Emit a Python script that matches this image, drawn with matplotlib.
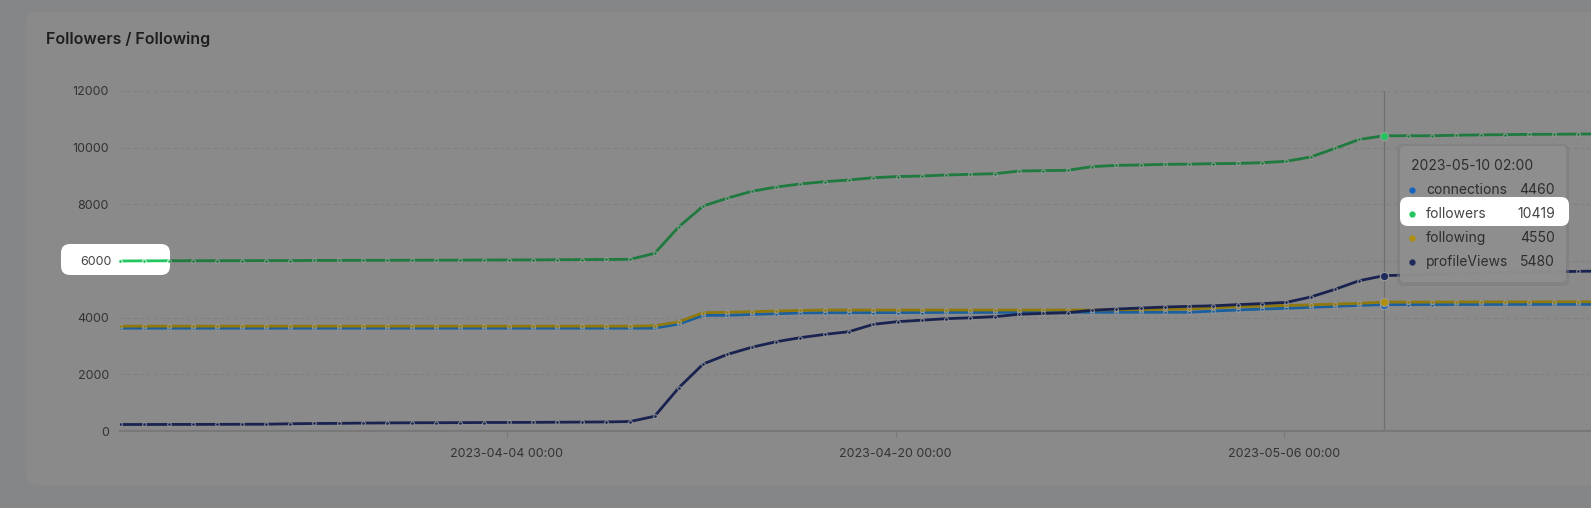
import numpy as np
import pandas as pd
import matplotlib
matplotlib.use('Agg')
import matplotlib.pyplot as plt
import matplotlib.dates as mdates
from matplotlib.patches import FancyBboxPatch
from matplotlib.transforms import Affine2D

plt.rcParams['font.family'] = ['Inter', 'DejaVu Sans']

W, H = 1591, 508

# daily snapshots, 02:00 each day
dates = pd.date_range('2023-03-19 02:00', periods=62, freq='D')

followers = [6000, 6005, 6008, 6010, 6010, 6012, 6015, 6015, 6020, 6022,
             6025, 6025, 6028, 6030, 6032, 6035, 6038, 6040, 6045, 6050,
             6055, 6060, 6270, 7210, 7940, 8220, 8460, 8610, 8720, 8800,
             8860, 8940, 8980, 9000, 9035, 9060, 9080, 9175, 9190, 9200,
             9330, 9375, 9390, 9410, 9420, 9435, 9445, 9470, 9520, 9670,
             9975, 10290, 10419, 10422, 10420, 10440, 10450, 10460, 10470, 10472,
             10480, 10485]
following = [3700] * 22 + [3715, 3855, 4175, 4190, 4210, 4235, 4255, 4270,
             4270, 4270, 4270, 4270, 4270, 4270, 4270, 4270, 4270, 4270, 4270,
             4280, 4285, 4295, 4305, 4350, 4385, 4410, 4430, 4450, 4480, 4505,
             4550, 4550, 4552, 4553, 4555, 4556, 4558, 4560, 4560, 4562]
connections = [3630] * 23 + [3775, 4080, 4085, 4115, 4140, 4165, 4175, 4175,
               4178, 4180, 4182, 4185, 4185, 4186, 4188, 4188, 4190, 4190, 4190,
               4190, 4190, 4190, 4235, 4270, 4305, 4330, 4365, 4400, 4435, 4460,
               4462, 4463, 4465, 4466, 4467, 4468, 4470, 4470, 4471]
profile_views = [230, 230, 232, 233, 235, 237, 240, 255, 265, 270,
                 280, 285, 290, 292, 295, 300, 302, 305, 310, 315,
                 320, 335, 520, 1530, 2365, 2705, 2955, 3150, 3295, 3410,
                 3505, 3765, 3860, 3910, 3965, 3995, 4035, 4120, 4150, 4175,
                 4260, 4305, 4340, 4375, 4400, 4420, 4460, 4495, 4540, 4730,
                 5000, 5305, 5480, 5510, 5530, 5550, 5570, 5590, 5605, 5620,
                 5635, 5645]

series_names = ['connections', 'followers', 'following', 'profileViews']
series_data = [connections, followers, following, profile_views]
line_colors = ['#1a5f9e', '#1f7a3f', '#8f780c', '#1a2350']
dot_colors = ['#1565c0', '#22c55e', '#b08f0c', '#1e2a5c']
hover = 52  # 2023-05-10 02:00

yticks = [0, 2000, 4000, 6000, 8000, 10000, 12000]
xticks = pd.to_datetime(['2023-04-04 00:00', '2023-04-20 00:00', '2023-05-06 00:00'])

fig = plt.figure(figsize=(W / 100, H / 100), dpi=100)
fig.patch.set_facecolor('#858687')
px = Affine2D().scale(1, -1).translate(0, H)  # pixel coords, origin top-left

card = FancyBboxPatch((26, 12), 1600, 473, boxstyle='round,pad=0,rounding_size=11',
                      transform=px, facecolor='#8a8a8a', edgecolor='none', zorder=0)
fig.add_artist(card)
fig.text(46, 39, 'Followers / Following', transform=px, fontsize=11.5, fontweight='semibold',
         color='#1e1e1e', va='center', ha='left')

ax = fig.add_axes([120 / W, 77 / H, (W - 120) / W, 340 / H])
ax.set_facecolor('none')
px_per_day = 24.3
ax.set_xlim(dates[0], dates[0] + pd.Timedelta(days=(W - 120) / px_per_day))
ax.set_ylim(0, 12000)

for name, vals, c in zip(series_names, series_data, line_colors):
    ax.plot(dates, vals, color=c, lw=2.0, marker='o', ms=2.6, mfc=c, mec='#a3a3a3',
            mew=0.6, zorder=3, solid_joinstyle='round')

ax.set_yticks(yticks)
ax.set_xticks(xticks)
ax.xaxis.set_major_formatter(mdates.DateFormatter('%Y-%m-%d %H:%M'))
ax.yaxis.grid(True, linestyle=(0, (3, 3)), color='#7f7f7f', lw=0.8)
ax.set_axisbelow(True)
for s in ['top', 'right', 'left']:
    ax.spines[s].set_visible(False)
ax.spines['bottom'].set_color('#787878')
ax.spines['bottom'].set_linewidth(1.6)
ax.tick_params(axis='y', length=0, pad=8, labelsize=9, labelcolor='#333333')
ax.tick_params(axis='x', length=4, color='#787878', pad=8, labelsize=9, labelcolor='#333333')

# hover crosshair and highlighted points
ax.axvline(dates[hover], color='#6f6f6f', lw=0.9, zorder=2)
for vals, c in zip(series_data, dot_colors):
    ax.plot(dates[hover], vals[hover], 'o', ms=6, color=c, mec='#9a9a9a', mew=0.8, zorder=4)

# highlighted "6000" region
hl = FancyBboxPatch((61, 244), 109, 31, boxstyle='round,pad=0,rounding_size=9',
                    transform=px, facecolor='white', edgecolor='none', zorder=5)
ax.add_artist(hl)
hl.set_clip_on(False)
bright, = ax.plot(dates, followers, color='#22c55e', lw=2.0, marker='o', ms=2.6,
                  mfc='#22c55e', mec='white', mew=0.6, zorder=6)
bright.set_clip_path(hl)
ax.text(112, 260.5, '6000', transform=px, ha='right', va='center_baseline', fontsize=9,
        color='#444444', zorder=6, clip_on=False)

# tooltip
shadow = FancyBboxPatch((1397, 144), 172, 142, boxstyle='round,pad=0,rounding_size=5',
                        transform=px, facecolor='#7c7c7c', edgecolor='none', alpha=0.5,
                        zorder=6.5, clip_on=False)
ax.add_artist(shadow)
tip = FancyBboxPatch((1400, 146), 166, 136, boxstyle='round,pad=0,rounding_size=4',
                     transform=px, facecolor='#8f8f8f', edgecolor='none', alpha=0.95,
                     zorder=7, clip_on=False)
ax.add_artist(tip)
ax.text(1411, 166, dates[hover].strftime('%Y-%m-%d %H:%M'), transform=px, ha='left',
        va='center', fontsize=10, color='#2e2e2e', zorder=9, clip_on=False)
row_y = [190, 214, 238, 262]
rowhl = FancyBboxPatch((1400, 197), 169, 29, boxstyle='round,pad=0,rounding_size=8',
                       transform=px, facecolor='white', edgecolor='none', zorder=8,
                       clip_on=False)
ax.add_artist(rowhl)
for i, (name, vals, c, y) in enumerate(zip(series_names, series_data, dot_colors, row_y)):
    txtc = '#444444' if name == 'followers' else '#2e2e2e'
    ax.plot([1412], [y], 'o', ms=3.5, color=c, transform=px, zorder=9, clip_on=False)
    ax.text(1426, y, name, transform=px, ha='left', va='center', fontsize=10,
            color=txtc, zorder=9, clip_on=False)
    ax.text(1555, y, str(vals[hover]), transform=px, ha='right', va='center', fontsize=10,
            color=txtc, zorder=9, clip_on=False)

fig.savefig('out.png', dpi=100, facecolor=fig.get_facecolor())
